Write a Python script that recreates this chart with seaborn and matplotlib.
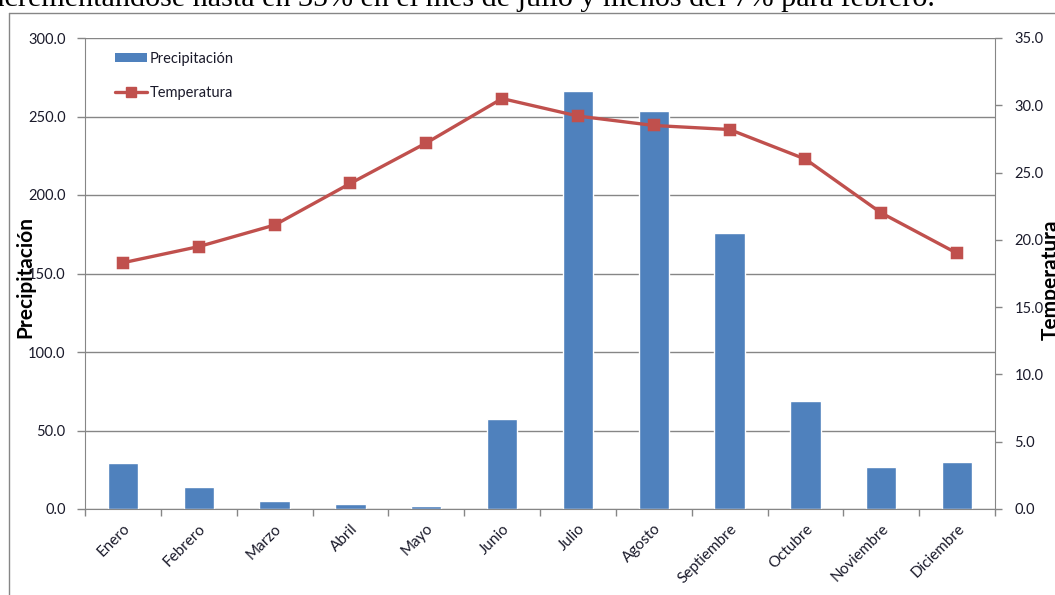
import numpy as np
import matplotlib
matplotlib.use("Agg")
import matplotlib.pyplot as plt
import seaborn as sns
from matplotlib.patches import Patch
from matplotlib.lines import Line2D
from matplotlib.ticker import FormatStrFormatter

months = ["Enero", "Febrero", "Marzo", "Abril", "Mayo", "Junio", "Julio",
          "Agosto", "Septiembre", "Octubre", "Noviembre", "Diciembre"]
precipitacion = [29.2, 14.2, 5.1, 3.4, 1.9, 57.3, 266.5, 253.5, 176.0, 69.0, 26.7, 29.9]
temperatura = [18.3, 19.5, 21.1, 24.2, 27.2, 30.5, 29.2, 28.5, 28.2, 26.0, 22.0, 19.0]
left_ticks = [0, 50, 100, 150, 200, 250, 300]
right_ticks = [0, 5, 10, 15, 20, 25, 30, 35]
top_text = "incrementándose hasta en 35% en el mes de julio y menos del 7% para febrero."

sns.set_style("white")
plt.rcParams["font.family"] = ["Lato", "DejaVu Sans"]

W, H = 1055, 595
BLUE = "#4F81BD"
RED = "#C0504D"
GRAY = "#868686"
TXT = "#1a1a2a"

fig = plt.figure(figsize=(W / 100, H / 100), dpi=100)
ax = fig.add_axes([85 / W, (H - 509) / H, 910 / W, 471 / H])

sns.barplot(x=months, y=precipitacion, ax=ax, color=BLUE, width=0.4,
            saturation=1, errorbar=None, zorder=2)

ax2 = ax.twinx()
sns.pointplot(x=months, y=temperatura, ax=ax2, color=RED, markers="s",
              linestyles="-", errorbar=None, markersize=7.5, linewidth=2.4)

# left axis
ax.set_ylim(left_ticks[0], left_ticks[-1])
ax.set_yticks(left_ticks)
ax.yaxis.set_major_formatter(FormatStrFormatter("%.1f"))
ax.set_axisbelow(True)
ax.yaxis.grid(True, color=GRAY, lw=1)
ax.xaxis.grid(False)
ax.tick_params(axis="y", which="major", left=True, length=6, width=1, color=GRAY,
               labelsize=10.5, labelcolor=TXT, pad=8, direction="out")
ax.set_ylabel("")
ax.set_xlabel("")

# right axis
ax2.set_ylim(right_ticks[0], right_ticks[-1])
ax2.set_yticks(right_ticks)
ax2.yaxis.set_major_formatter(FormatStrFormatter("%.1f"))
ax2.tick_params(axis="y", which="major", right=True, length=5, width=1, color=GRAY,
                labelsize=10.5, labelcolor=TXT, pad=9, direction="out")
ax2.set_ylabel("")
ax2.grid(False)

# x axis (shared)
ax.set_xlim(-0.5, 11.5)
ax.set_xticks(range(len(months)))
ax.set_xticklabels(months, rotation=45, ha="right", va="top", rotation_mode="anchor")
ax.set_xticks(np.arange(-0.5, len(months), 1), minor=True)
ax.tick_params(axis="x", which="major", bottom=True, length=0, labelsize=11,
               labelcolor=TXT, pad=9)
ax.tick_params(axis="x", which="minor", bottom=True, length=5, width=1, color=GRAY,
               direction="out")

for a in (ax, ax2):
    for s in a.spines.values():
        s.set_visible(False)
ax.spines["left"].set_visible(True)
ax.spines["left"].set_color(GRAY)
ax.spines["bottom"].set_visible(True)
ax.spines["bottom"].set_color(GRAY)
ax2.spines["right"].set_visible(True)
ax2.spines["right"].set_color(GRAY)

# legend
handles = [Patch(facecolor=BLUE, edgecolor="none"),
           Line2D([0], [0], color=RED, lw=2.4, marker="s", markersize=7.5)]
ax2.legend(handles, ["Precipitación", "Temperatura"], loc="upper left",
           bbox_to_anchor=(115 / W, 1 - 52 / H), bbox_transform=fig.transFigure,
           frameon=False, fontsize=10.5, handlelength=2.2, handletextpad=0.2,
           labelspacing=1.35, borderpad=0, borderaxespad=0, handleheight=0.55,
           labelcolor=TXT)

# axis titles
fig.text(25 / W, 1 - 277 / H, "Precipitación", rotation=90, ha="center", va="center",
         fontsize=15, fontweight="bold", color="black")
fig.text(1051 / W, 1 - 280 / H, "Temperatura", rotation=90, ha="center", va="center",
         fontsize=15, fontweight="bold", color="black")

# chart frame
fig.add_artist(Line2D([9 / W, 9 / W], [0, 1 - 12.5 / H], transform=fig.transFigure,
                      color=GRAY, lw=1))
fig.add_artist(Line2D([9 / W, 1], [1 - 12.5 / H, 1 - 12.5 / H], transform=fig.transFigure,
                      color=GRAY, lw=1))

# surrounding document text (cut at the top)
fig.text(935 / W, 1 - 6.5 / H, top_text, ha="right", va="baseline", fontsize=21.7,
         family=["Liberation Serif", "DejaVu Serif"], color="black")

fig.savefig("out.png", dpi=100)
